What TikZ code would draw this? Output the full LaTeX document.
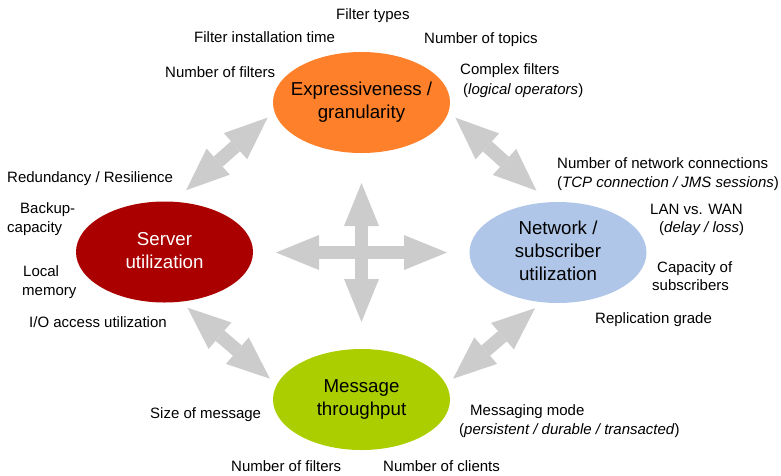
\documentclass[tikz,border=0pt]{standalone}
\usepackage{fontspec}
\setmainfont{Liberation Sans}
\usetikzlibrary{arrows.meta,shapes.geometric}
\definecolor{cOrange}{RGB}{255,128,42}
\definecolor{cRed}{RGB}{170,0,0}
\definecolor{cBlue}{RGB}{176,198,232}
\definecolor{cGreen}{RGB}{170,206,0}
\definecolor{cArrow}{RGB}{204,204,204}
\newcommand{\elltext}[1]{\makebox[0pt]{\begin{tabular}{@{}c@{}}#1\end{tabular}}}
\begin{document}
\begin{tikzpicture}[x=1pt,y=-1pt,
  ell/.style={ellipse, minimum width=177pt, minimum height=101pt, inner sep=0pt,
    font=\fontsize{18.7}{23}\selectfont},
  lab/.style={inner sep=0pt, anchor=base west, font=\fontsize{15}{18}\selectfont},
  biarrow/.style={draw=cArrow, line width=13.5pt,
    {Triangle[length=43pt,width=35pt,line width=0pt]}-{Triangle[length=43pt,width=35pt,line width=0pt]}}
]
\useasboundingbox (0,0) rectangle (781,475);

% ellipses
\node[ell, fill=cOrange] (expr) at (361.5,102.5) {\elltext{Expressiveness /\\granularity}};
\node[ell, fill=cRed, text=white] (server) at (164.5,252) {\elltext{Server\\utilization}};
\node[ell, fill=cBlue] (net) at (558,252.5) {\elltext{Network /\\subscriber\\utilization}};
\node[ell, fill=cGreen] (msg) at (361.5,399.5) {\elltext{Message\\throughput}};

% diagonal double arrows
\draw[biarrow, shorten <=8.9pt, shorten >=17pt] (expr.186) -- (server.80);
\draw[biarrow, shorten <=8.9pt, shorten >=17pt] (expr.354) -- (net.100);
\draw[biarrow, shorten <=8.9pt, shorten >=9pt] (server.288) -- (msg.170);
\draw[biarrow, shorten <=8.9pt, shorten >=9pt] (net.252) -- (msg.10);

% central cross
\coordinate (cxL) at (276,252.5);
\coordinate (cxR) at (447,252.5);
\coordinate (cxT) at (361.5,183);
\coordinate (cxB) at (361.5,322);
\draw[biarrow] (cxL) -- (cxR);
\draw[biarrow] (cxT) -- (cxB);

% labels: top
\node[lab] (tTypes) at (336,19) {Filter types};
\node[lab] (tInstall) at (194,42) {Filter installation time};
\node[lab] (tTopics) at (424,43) {Number of topics};
\node[lab] (tNumFiltTop) at (165,77) {Number of filters};
\node[lab] (tComplex) at (460,74) {Complex filters};
\node[lab] (tLogical) at (463,94) {(\textit{logical operators})};

% labels: left
\node[lab] (tRedund) at (7,182) {Redundancy / Resilience};
\node[lab] (tBackup) at (20,213) {Backup-};
\node[lab] (tCapacity) at (7,232) {capacity};
\node[lab] (tLocal) at (23,276) {Local};
\node[lab] (tMemory) at (22,295) {memory};
\node[lab] (tIO) at (29,327) {I/O access utilization};

% labels: right
\node[lab] (tNetConn) at (557,168) {Number of network connections};
\node[lab] (tTCP) at (557,187) {(\textit{TCP connection / JMS sessions})};
\node[lab] (tLAN) at (650,214) {LAN vs. WAN};
\node[lab] (tDelay) at (659,232) {(\textit{delay / loss})};
\node[lab] (tCapOf) at (657,272) {Capacity of};
\node[lab] (tSubs) at (652,290) {subscribers};
\node[lab] (tRepl) at (595,323) {Replication grade};

% labels: bottom
\node[lab] (tSize) at (150,418) {Size of message};
\node[lab] (tMode) at (470,415) {Messaging mode};
\node[lab] (tPersist) at (459,434) {(\textit{persistent / durable / transacted})};
\node[lab] (tNumFiltBot) at (231,471) {Number of filters};
\node[lab] (tClients) at (383,471) {Number of clients};
\end{tikzpicture}
\end{document}
